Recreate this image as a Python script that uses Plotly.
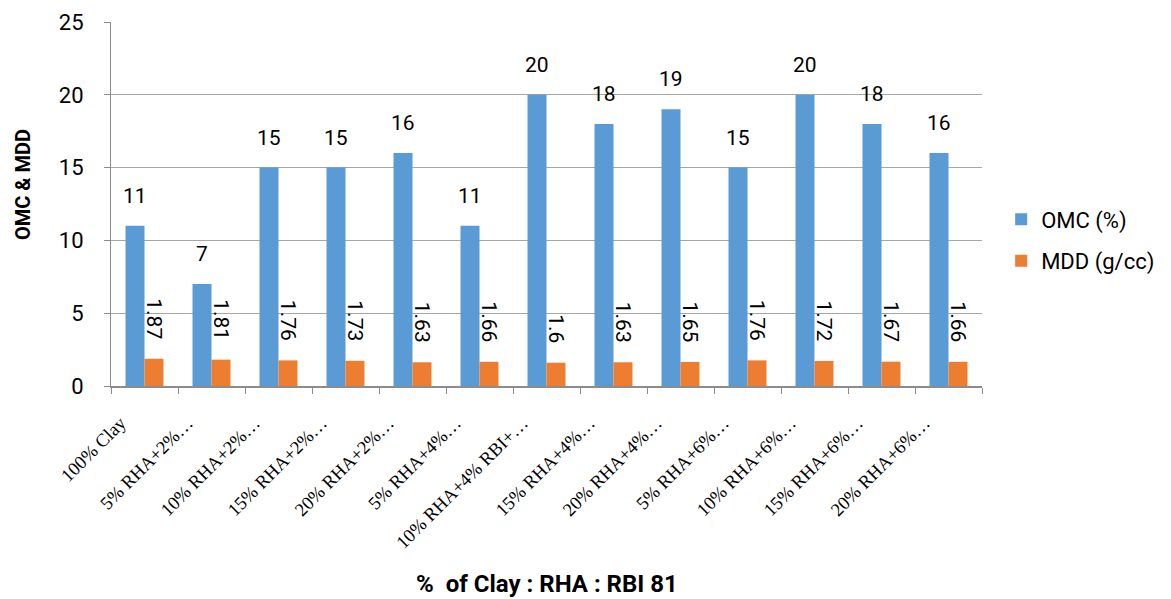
import plotly.graph_objects as go

categories = ["100% Clay", "5% RHA+2%…", "10% RHA+2%…", "15% RHA+2%…", "20% RHA+2%…",
              "5% RHA+4%…", "10% RHA+4% RBI+…", "15% RHA+4%…", "20% RHA+4%…",
              "5% RHA+6%…", "10% RHA+6%…", "15% RHA+6%…", "20% RHA+6%…"]
omc = [11, 7, 15, 15, 16, 11, 20, 18, 19, 15, 20, 18, 16]
mdd = [1.87, 1.81, 1.76, 1.73, 1.63, 1.66, 1.6, 1.63, 1.65, 1.76, 1.72, 1.67, 1.66]
yticks = [0, 5, 10, 15, 20, 25]

BLUE = "#5B9BD5"
ORANGE = "#ED7D31"
SANS = "Roboto, Liberation Sans, sans-serif"

fig = go.Figure()
fig.add_trace(go.Bar(x=categories, y=omc, name="OMC (%)", marker_color=BLUE,
                     marker_line_width=0, legendgroup="a"))
fig.add_trace(go.Bar(x=categories, y=mdd, name="MDD (g/cc)", marker_color=ORANGE,
                     marker_line_width=0, legendgroup="b"))

annotations = []
for c, v in zip(categories, omc):
    annotations.append(dict(x=c, y=v, xref="x", yref="y", text=str(v), showarrow=False,
                            xshift=-9.5, yanchor="bottom", yshift=16,
                            font=dict(family=SANS, size=21, color="#000")))
for c, v in zip(categories, mdd):
    annotations.append(dict(x=c, y=v, xref="x", yref="y", text=str(v), showarrow=False,
                            xshift=9.5, yanchor="bottom", yshift=18, textangle=90,
                            font=dict(family=SANS, size=21, color="#000")))

annotations.append(dict(x=0.5, y=-0.545, xref="paper", yref="paper", yanchor="middle",
                        text="<b>%  of Clay : RHA : RBI 81</b>", showarrow=False,
                        font=dict(family=SANS, size=24, color="#000")))
annotations.append(dict(x=-0.101, y=0.552, xref="paper", yref="paper",
                        xanchor="center", yanchor="middle", textangle=-90,
                        text="<b>OMC & MDD</b>", showarrow=False,
                        font=dict(family=SANS, size=20, color="#000")))

fig.update_layout(
    width=1171, height=599,
    margin=dict(l=111, r=189, t=22, b=213, autoexpand=False),
    plot_bgcolor="white", paper_bgcolor="white",
    barmode="group", bargap=0.433, bargroupgap=0,
    annotations=annotations,
    legend=dict(x=1.022, y=0.40, xanchor="left", yanchor="middle",
                font=dict(family=SANS, size=22, color="#000"),
                tracegroupgap=10, itemwidth=30),
    yaxis=dict(range=[0, 25], tickvals=yticks, showgrid=True, gridcolor="#A6A6A6",
               gridwidth=1, showline=True, linecolor="#8C8C8C", linewidth=1,
               ticks="outside", ticklen=6, tickcolor="#8C8C8C", zeroline=False,
               ticklabelstandoff=16,
               tickfont=dict(family=SANS, size=22, color="#000")),
    xaxis=dict(type="category", showline=True, linecolor="#8C8C8C", linewidth=2,
               ticks="outside", tickson="boundaries", ticklen=6, tickcolor="#8C8C8C",
               tickangle=-45, ticklabelstandoff=17, ticklabelshift=-24,
               tickfont=dict(family="Liberation Serif", size=18.5, color="#000")),
)

fig.write_html("out.html", config={"displayModeBar": False},
               post_script="document.body.style.margin='0px';")
